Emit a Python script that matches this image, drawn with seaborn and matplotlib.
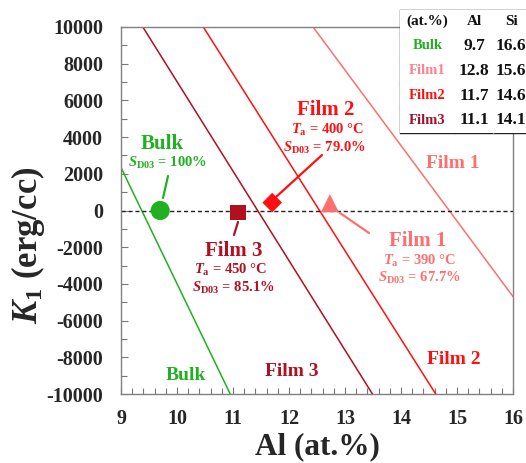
import matplotlib
matplotlib.use("Agg")
import matplotlib.pyplot as plt
import seaborn as sns
import pandas as pd
from matplotlib.ticker import MultipleLocator
from matplotlib.patches import Rectangle

sns.set_theme(style="white")
plt.rcParams['font.family'] = ['Liberation Serif', 'DejaVu Serif']
plt.rcParams['axes.unicode_minus'] = False
plt.rcParams['mathtext.fontset'] = 'custom'
plt.rcParams['mathtext.rm'] = 'Liberation Serif:bold'
plt.rcParams['mathtext.it'] = 'Liberation Serif:italic:bold'
plt.rcParams['mathtext.bf'] = 'Liberation Serif:bold'

# ---- data ----
samples = ["Bulk", "Film1", "Film2", "Film3"]
al_table = ["9.7", "12.8", "11.7", "11.1"]
si_table = ["16.6", "15.6", "14.6", "14.1"]

# measured points (Al at.%, K1 erg/cc)
point_al = [9.70, 12.73, 11.70, 11.09]
point_k1 = [0, 400, 430, -120]
point_marker = ["o", "^", "D", "s"]

# iso-composition lines (endpoints)
bulk_line_x = [9.0, 10.95]
bulk_line_y = [2340, -10000]
film1_line_x = [12.43, 16.0]
film1_line_y = [10000, -4690]
film2_line_x = [10.47, 14.62]
film2_line_y = [10000, -10000]
film3_line_x = [9.39, 13.49]
film3_line_y = [10000, -10000]

c_bulk = "#22b022"
c_f1 = "#ff6f6f"
c_f2 = "#ff1010"
c_f3 = "#b01020"
colors = [c_bulk, c_f1, c_f2, c_f3]
table_colors = [c_bulk, "#ff7f90", "#ff1010", "#a0102a"]

W, H = 526, 463
fig = plt.figure(figsize=(W / 100, H / 100), dpi=100)
ax = fig.add_axes([121 / W, 1 - 394 / H, 392 / W, 367 / H])

for lx, ly, c in [(bulk_line_x, bulk_line_y, c_bulk),
                  (film1_line_x, film1_line_y, c_f1),
                  (film2_line_x, film2_line_y, c_f2),
                  (film3_line_x, film3_line_y, c_f3)]:
    sns.lineplot(x=lx, y=ly, ax=ax, color=c, lw=1.1, legend=False)

ax.axhline(0, color="#222222", lw=1.0, ls=(0, (3, 2)), zorder=2)

sizes = {"o": 190, "^": 170, "D": 100, "s": 120}
for i in range(4):
    sns.scatterplot(x=[point_al[i]], y=[point_k1[i]], ax=ax, marker=point_marker[i],
                    s=sizes[point_marker[i]], color=colors[i], edgecolor="none",
                    zorder=5, legend=False)

ax.set_xlim(9, 16)
ax.set_ylim(-10000, 10000)
ax.xaxis.set_major_locator(MultipleLocator(1))
ax.xaxis.set_minor_locator(MultipleLocator(0.2))
ax.yaxis.set_major_locator(MultipleLocator(2000))
ax.yaxis.set_minor_locator(MultipleLocator(1000))
ax.tick_params(which="both", direction="in", color="#777777", width=0.8)
ax.tick_params(which="major", length=5)
ax.tick_params(which="minor", length=4)
ax.tick_params(axis="x", which="both", bottom=True, top=False, pad=11)
ax.tick_params(axis="y", which="both", left=True, right=False, pad=13)
for lab in ax.get_xticklabels() + ax.get_yticklabels():
    lab.set_fontsize(14.5)
    lab.set_fontweight("bold")
for sp in ax.spines.values():
    sp.set_color("#808080")
    sp.set_linewidth(1.0)

ax.set_xlabel("Al (at.%)", fontsize=22.5, fontweight="bold", labelpad=2)
ax.set_ylabel(r"$\mathit{K}_{\mathrm{1}}$ (erg/cc)", fontsize=25, fontweight="bold",
              va="center")
ax.yaxis.set_label_coords(28 / W, 1 - 245 / H, transform=fig.transFigure)

def ftxt(x, y, s, c, size, **kw):
    fig.text(x / W, 1 - y / H, s, color=c, fontsize=size, fontweight="bold",
             ha=kw.pop("ha", "center"), va=kw.pop("va", "center"), **kw)

def fline(x0, y0, x1, y1, c, lw=1.6):
    fig.add_artist(plt.Line2D([x0 / W, x1 / W], [1 - y0 / H, 1 - y1 / H],
                              color=c, lw=lw, transform=fig.transFigure))

# annotations
ftxt(162, 144, "Bulk", c_bulk, 15)
ftxt(167, 163, r"$\mathit{S}_{\mathrm{D03}}$ = 100%", c_bulk, 10.5)
fline(168, 176, 163, 198, c_bulk)

ftxt(326, 110, "Film 2", c_f2, 15)
ftxt(327, 130, r"$\mathit{T}_{\mathrm{a}}$ = 400 °C", c_f2, 10.5)
ftxt(324, 148, r"$\mathit{S}_{\mathrm{D03}}$ = 79.0%", c_f2, 10.5)
fline(322, 155, 276, 197, c_f2)

ftxt(234, 251, "Film 3", c_f3, 15)
ftxt(230, 270, r"$\mathit{T}_{\mathrm{a}}$ = 450 °C", c_f3, 10.5)
ftxt(233, 288, r"$\mathit{S}_{\mathrm{D03}}$ = 85.1%", c_f3, 10.5)
fline(238, 222, 234, 235, c_f3)

ftxt(418, 241, "Film 1", c_f1, 15)
ftxt(419, 261, r"$\mathit{T}_{\mathrm{a}}$ = 390 °C", c_f1, 10.5)
ftxt(419, 278, r"$\mathit{S}_{\mathrm{D03}}$ = 67.7%", c_f1, 10.5)
fline(340, 213, 369, 233, c_f1)

# line labels
ftxt(453, 164, "Film 1", c_f1, 14)
ftxt(454, 359, "Film 2", c_f2, 14)
ftxt(292, 372, "Film 3", c_f3, 14)
ftxt(186, 376, "Bulk", c_bulk, 14)

# table
col_x = [400, 455, 493, 535]
row_y = [10, 33, 58, 83, 108, 133]
fig.add_artist(Rectangle((col_x[0] / W, 1 - row_y[-1] / H),
                         (col_x[-1] - col_x[0]) / W, (row_y[-1] - row_y[0]) / H,
                         transform=fig.transFigure, facecolor="white",
                         edgecolor="none", zorder=6))
for yy in row_y:
    fline(col_x[0], yy, col_x[-1], yy, "#222222", lw=1.0)
for xx in col_x[:2]:
    fline(xx, row_y[0], xx, row_y[-1], "#222222", lw=1.0)
fline(493, row_y[0], 493, row_y[-1], "#888888", lw=1.0)
hdr = ["(at.%)", "Al", "Si"]
hx = [(col_x[0] + col_x[1]) / 2, (col_x[1] + col_x[2]) / 2, 511]
for j, h in enumerate(hdr):
    ftxt(hx[j], (row_y[0] + row_y[1]) / 2, h, "#111111", 11, zorder=7)
for i in range(4):
    yc = (row_y[i + 1] + row_y[i + 2]) / 2
    ftxt(hx[0], yc, samples[i], table_colors[i], 10.5, zorder=7)
    ftxt(hx[1], yc, al_table[i], "#111111", 12.5, zorder=7)
    ftxt(hx[2], yc, si_table[i], "#111111", 12.5, zorder=7)

fig.savefig("out.png", dpi=100)
